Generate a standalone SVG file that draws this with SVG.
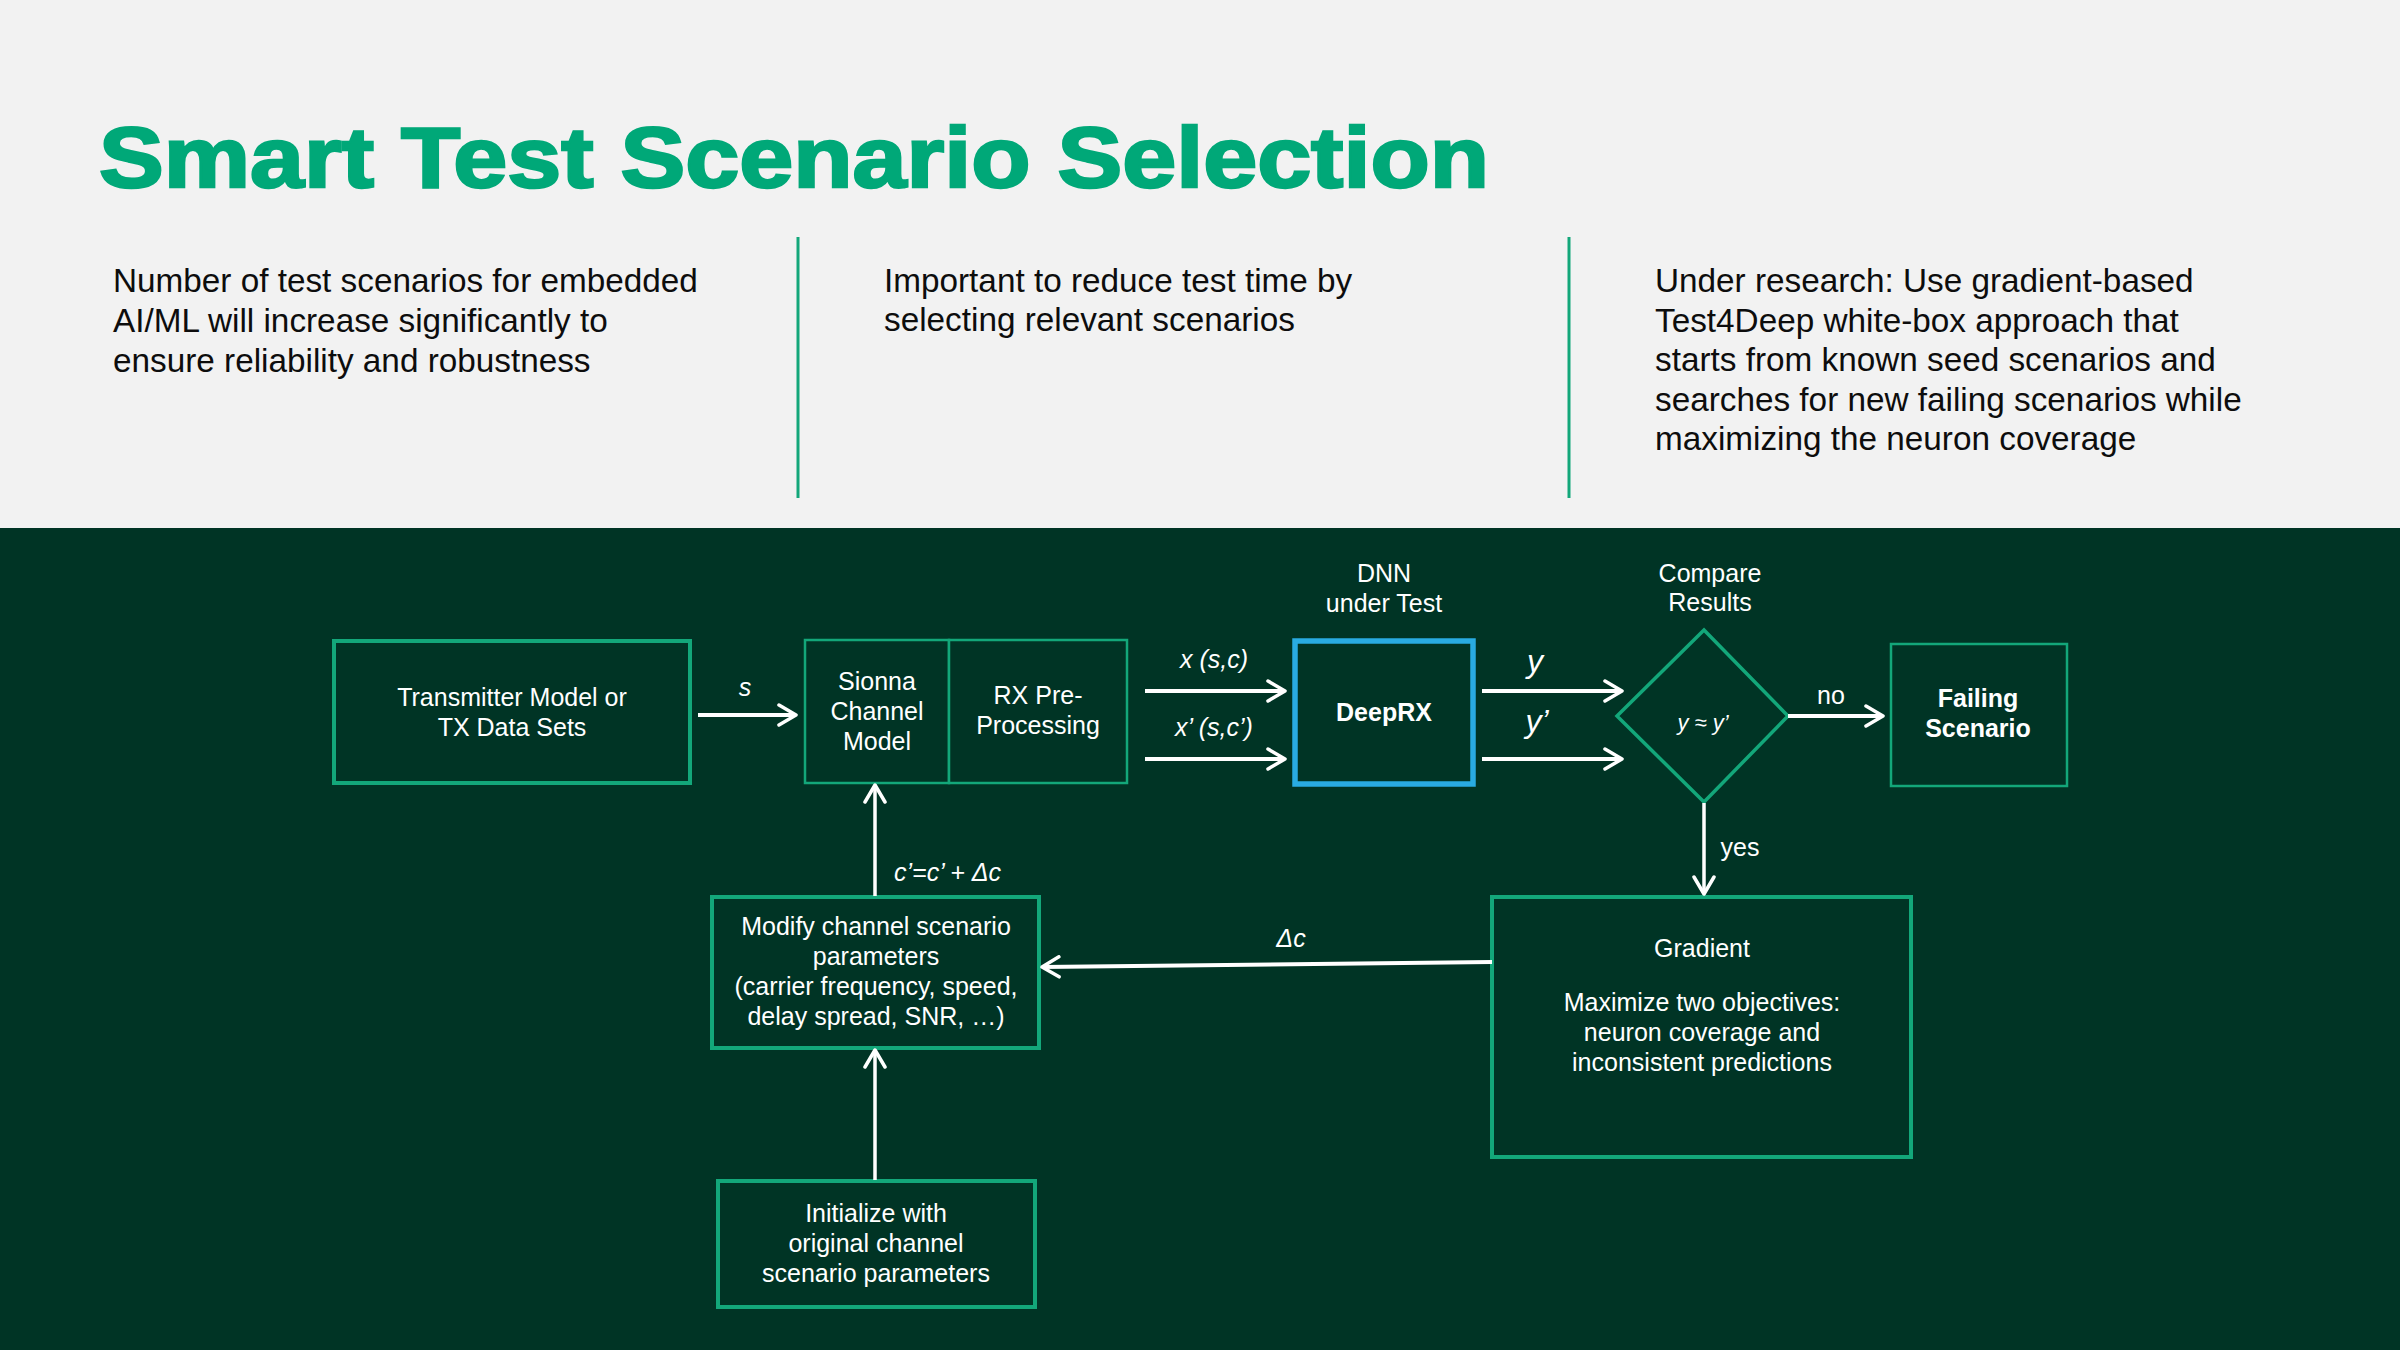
<svg xmlns="http://www.w3.org/2000/svg" width="2400" height="1350" viewBox="0 0 2400 1350">
<defs>
<style>
.body{font-family:"Liberation Sans",Arial,sans-serif;font-size:33.3px;fill:#0d0d0d}
.t{font-family:"Liberation Sans",Arial,sans-serif;font-size:25px;fill:#ffffff;text-anchor:middle}
.b{font-weight:bold}
.i{font-style:italic}
.big{font-size:32px}
.sm{font-size:22px}
.st{text-anchor:start}
.box{fill:#003425;stroke:#13a77a;stroke-width:4}
.thin{stroke-width:2.5}
.sep{stroke:#13a77a;stroke-width:3}
.conn{stroke:#ffffff;stroke-width:4;fill:none;marker-end:url(#ah)}
.vconn{stroke:#ffffff;stroke-width:3.5;fill:none;marker-end:url(#ah)}
</style>
<marker id="ah" viewBox="0 0 22 24" refX="20" refY="12" markerWidth="22" markerHeight="24" markerUnits="userSpaceOnUse" orient="auto">
<path d="M3,2 L20,12 L3,22" fill="none" stroke="#ffffff" stroke-width="3.5" stroke-linecap="round" stroke-linejoin="round"/>
</marker>
</defs>
<rect x="0" y="0" width="2400" height="528" fill="#f2f2f2"/>
<rect x="0" y="528" width="2400" height="822" fill="#003425"/>
<text x="99" y="187" font-family="'Liberation Sans',Arial,sans-serif" font-weight="bold" font-size="86" fill="#00a878" stroke="#00a878" stroke-width="2.5" textLength="1390" lengthAdjust="spacingAndGlyphs">Smart Test Scenario Selection</text>
<g id="intro">
<text class="body" x="113" y="292">Number of test scenarios for embedded</text>
<text class="body" x="113" y="332">AI/ML will increase significantly to</text>
<text class="body" x="113" y="372">ensure reliability and robustness</text>
<line class="sep" x1="798" y1="237" x2="798" y2="498"/>
<text class="body" x="884" y="292">Important to reduce test time by</text>
<text class="body" x="884" y="331">selecting relevant scenarios</text>
<line class="sep" x1="1569" y1="237" x2="1569" y2="498"/>
<text class="body" x="1655" y="292">Under research: Use gradient-based</text>
<text class="body" x="1655" y="332">Test4Deep white-box approach that</text>
<text class="body" x="1655" y="371">starts from known seed scenarios and</text>
<text class="body" x="1655" y="411">searches for new failing scenarios while</text>
<text class="body" x="1655" y="450">maximizing the neuron coverage</text>
</g>
<g id="transmitter">
<rect class="box" x="334" y="641" width="356" height="142"/>
<text class="t" x="512" y="706">Transmitter Model or</text>
<text class="t" x="512" y="736">TX Data Sets</text>
</g>
<g id="sionna">
<rect class="box thin" x="805" y="640" width="144" height="143"/>
<text class="t" x="877" y="690">Sionna</text>
<text class="t" x="877" y="720">Channel</text>
<text class="t" x="877" y="750">Model</text>
</g>
<g id="rxpre">
<rect class="box thin" x="949" y="640" width="178" height="143"/>
<text class="t" x="1038" y="704">RX Pre-</text>
<text class="t" x="1038" y="734">Processing</text>
</g>
<g id="deeprx">
<text class="t" x="1384" y="582">DNN</text>
<text class="t" x="1384" y="612">under Test</text>
<rect x="1295" y="641" width="178" height="143" fill="#003425" stroke="#29abe2" stroke-width="5.5"/>
<text class="t b" x="1384" y="721">DeepRX</text>
</g>
<g id="compare">
<text class="t" x="1710" y="582">Compare</text>
<text class="t" x="1710" y="611">Results</text>
<polygon points="1704,630 1788,716 1704,802 1617,716" fill="#003425" stroke="#13a77a" stroke-width="3.5"/>
<text class="t i sm" x="1703" y="730">y ≈ y’</text>
</g>
<g id="failing">
<rect class="box thin" x="1891" y="644" width="176" height="142"/>
<text class="t b" x="1978" y="707">Failing</text>
<text class="t b" x="1978" y="737">Scenario</text>
</g>
<g id="gradient">
<rect class="box" x="1492" y="897" width="419" height="260"/>
<text class="t" x="1702" y="957">Gradient</text>
<text class="t" x="1702" y="1011">Maximize two objectives:</text>
<text class="t" x="1702" y="1041">neuron coverage and</text>
<text class="t" x="1702" y="1071">inconsistent predictions</text>
</g>
<g id="modify">
<rect class="box" x="712" y="897" width="327" height="151"/>
<text class="t" x="876" y="935">Modify channel scenario</text>
<text class="t" x="876" y="965">parameters</text>
<text class="t" x="876" y="995">(carrier frequency, speed,</text>
<text class="t" x="876" y="1025">delay spread, SNR, …)</text>
</g>
<g id="init">
<rect class="box" x="718" y="1181" width="317" height="126"/>
<text class="t" x="876" y="1222">Initialize with</text>
<text class="t" x="876" y="1252">original channel</text>
<text class="t" x="876" y="1282">scenario parameters</text>
</g>
<g id="connectors">
<line class="conn" x1="698" y1="715" x2="796" y2="715"/>
<text class="t i" x="745" y="696">s</text>
<line class="conn" x1="1145" y1="691" x2="1285" y2="691"/>
<text class="t i" x="1214" y="668">x (s,c)</text>
<line class="conn" x1="1145" y1="759" x2="1285" y2="759"/>
<text class="t i" x="1214" y="736">x’ (s,c’)</text>
<line class="conn" x1="1482" y1="691" x2="1622" y2="691"/>
<text class="t i big" x="1535" y="672">y</text>
<line class="conn" x1="1482" y1="759" x2="1622" y2="759"/>
<text class="t i big" x="1537" y="732">y’</text>
<line class="conn" x1="1788" y1="716" x2="1883" y2="716"/>
<text class="t" x="1831" y="704">no</text>
<line class="vconn" x1="1704" y1="803" x2="1704" y2="894"/>
<text class="t" x="1740" y="856">yes</text>
<line class="conn" x1="1492" y1="962" x2="1042" y2="967"/>
<text class="t i" x="1291" y="947">Δc</text>
<line class="vconn" x1="875" y1="896" x2="875" y2="785"/>
<text class="t i st" x="894" y="881">c’=c’ + Δc</text>
<line class="vconn" x1="875" y1="1180" x2="875" y2="1050"/>
</g>
</svg>
